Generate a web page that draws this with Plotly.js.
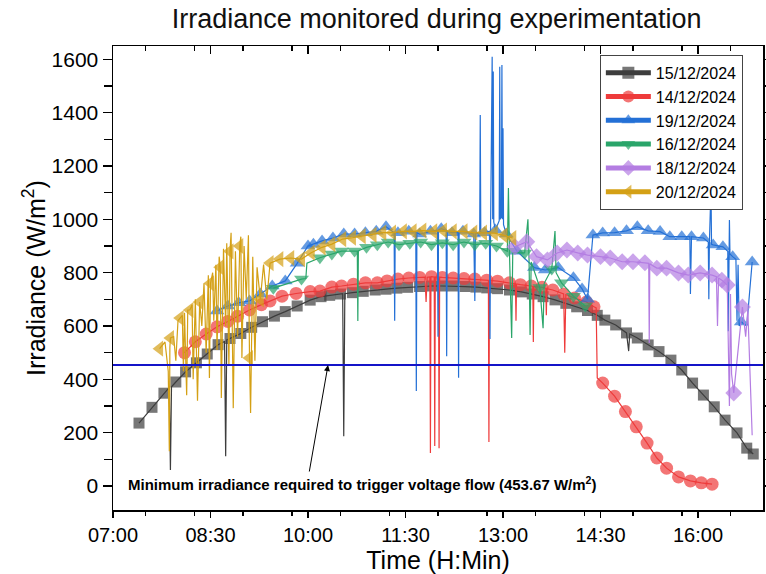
<!DOCTYPE html>
<html><head><meta charset="utf-8">
<script src="https://cdn.plot.ly/plotly-3.0.1.min.js"></script>
<style>html,body{margin:0;padding:0;background:#fff}#chart{width:766px;height:574px}</style>
</head><body><div id="chart"></div>
<script>
// ---- data (time "HH:MM[:SS]", irradiance W/m2) ----
const DAY = '2024-12-15 ';
const THRESH = 453.67;
const xStart = '07:00', xEnd = '17:00';

// 15/12/2024
const s15T = ['07:24','07:36','07:47','07:58','08:07','08:17','08:27','08:37','08:48','08:58','09:08','09:18','09:29','09:39','09:50','10:02','10:12','10:20','10:30','10:41','10:51','11:02','11:12','11:22','11:32','11:43','11:54','12:04','12:14','12:25','12:35','12:45','12:55','13:06','13:17','13:27','13:37','13:48','13:58','14:08','14:18','14:27','14:34','14:44','14:54','15:04','15:14','15:24','15:35','15:45','15:55','16:05','16:15','16:25','16:36','16:45','16:51'];
const s15V = [236,295,348,390,428,462,495,530,553,572,595,616,637,654,675,697,710,715,720,725,730,735,738,742,745,748,750,750,750,748,746,743,740,735,728,720,710,698,685,672,658,640,622,604,574,555,529,504,472,435,386,341,297,247,199,142,120];
const s15xT = ['07:52','07:53','07:54','08:43','08:44','08:45','10:32','10:33','10:34','14:56','14:57'];
const s15xV = [370,60,372,542,112,548,721,187,721,506,570];

// 14/12/2024
const s14T = ['08:06','08:16','08:26','08:36','08:46','08:55','09:06','09:17','09:25','09:36','09:49','10:02','10:11','10:22','10:31','10:42','10:53','11:04','11:13','11:23','11:33','11:43','11:54','12:04','12:14','12:24','12:34','12:45','12:55','13:06','13:16','13:26','13:36','13:46','13:56','14:06','14:17','14:24','14:32','14:43','14:53','15:03','15:13','15:22','15:31','15:42','15:53','16:03','16:13'];
const s14V = [500,541,570,597,617,637,660,680,694,712,722,729,731,746,750,757,762,762,769,776,780,782,785,782,780,778,776,772,768,762,755,750,745,735,720,705,690,672,386,337,279,222,161,105,67,34,19,12,7];
const s14xT = ['11:48','11:49','11:50','11:52:30','11:53','11:53:30','11:56:30','11:57','11:57:30','12:00:30','12:01','12:01:30','12:46:30','12:47','12:47:30','13:11:30','13:12','13:12:30','13:27:30','13:28','13:28:30','13:39:30','13:40','13:40:30','13:57','13:58','14:26','14:27'];
const s14xV = [783,690,783,784,124,784,784,150,784,783,142,783,771,165,771,758,620,758,749,540,748,742,640,740,500,718,668,405];

// 19/12/2024
const s19T = ['08:36','08:46','08:56','09:06','09:16','09:27','09:39','09:50','10:00','10:05','10:13','10:23','10:33','10:43','10:53','11:03','11:12','11:23','11:33','11:43','11:53','12:03','12:13','12:23','12:33','12:43','12:53','13:03','13:13','13:29','13:39','13:51','14:05','14:13','14:18','14:23','14:32','14:43','14:54','15:04','15:14','15:25','15:34','15:45','15:54','16:05','16:14','16:23','16:32','16:40','16:50'];
const s19V = [656,675,687,694,720,750,769,835,900,907,919,930,945,945,950,955,972,950,955,945,955,965,950,955,945,950,960,945,880,819,810,819,781,739,700,941,949,950,957,972,957,954,935,935,935,930,904,897,860,615,840];
const s19xT = ['11:19:30','11:20','11:20:30','11:39:30','11:40','11:40:30','11:59:30','12:00','12:00:30','12:07:30','12:08','12:08:30','12:18:30','12:19','12:19:30','12:34','12:34:30','12:38:30','12:39','12:39:30','12:47:30','12:48','12:48:30','12:50','12:50:30','12:51','12:51:30','12:56:30','12:57','12:57:30','12:58:30','12:59','12:59:30','13:00','13:00:30','15:52:30','15:53','15:53:30','16:09:30','16:10','16:10:30','16:12','16:12:30','16:27:30','16:28','16:29','16:29:30','16:35','16:36','16:37','16:38','16:45','16:47'];
const s19xV = [950,620,950,952,356,950,958,560,960,958,487,955,952,406,952,694,947,948,1391,950,955,551,955,1610,1000,1554,990,995,1572,1000,1010,1579,1000,1342,980,935,720,935,915,700,912,1117,906,880,580,997,870,850,620,830,600,600,700];

// 16/12/2024
const s16T = ['09:28','09:54','10:11','10:22','10:31','10:43','10:54','11:04','11:14','11:24','11:34','11:44','11:54','12:04','12:14','12:24','12:34','12:44','12:54','13:04','13:20','13:34','13:45','13:54','14:05','14:16'];
const s16V = [742,776,856,870,881,881,895,905,915,905,910,915,905,912,905,915,905,910,900,880,874,744,814,762,712,675];
const s16xT = ['09:58','09:59','10:45:30','10:46','10:46:30','13:05','13:06','13:08','13:09','13:23','13:24','13:25','13:26','13:37','13:38','13:48','13:49'];
const s16xV = [778,836,881,619,882,1117,870,555,875,1000,860,566,840,592,760,956,800];

// 18/12/2024
const s18T = ['13:11','13:22','13:31','13:41','13:50','13:59','14:09','14:18','14:30','14:39','14:50','15:00','15:11','15:22','15:31','15:42','15:51','16:02','16:13','16:22','16:27','16:33','16:41'];
const s18V = [897,916,860,848,874,885,874,866,860,855,841,841,837,817,817,799,791,799,791,772,754,349,671];
const s18xT = ['15:14:30','15:15','15:15:30','16:17','16:18','16:19','16:29','16:30','16:31','16:44','16:46','16:50'];
const s18xV = [835,536,833,785,600,780,300,720,420,560,660,190];

// 20/12/2024
const s20T = ['07:43','07:53','08:02','08:11','08:20','08:30','08:39','08:48','08:57','09:06','09:16','09:25','09:34','09:44','09:54','10:03','10:13','10:22','10:32','10:41','10:50','11:00','11:09','11:18','11:28','11:37','11:46','11:56','12:05','12:14','12:24','12:33','12:42','12:52','13:01','13:09'];
const s20V = [515,555,630,660,690,760,820,880,900,480,700,836,851,855,851,875,895,907,926,931,937,942,950,950,955,955,958,955,958,955,955,950,950,948,940,930];
const s20xT = ['07:48','07:51','07:52','07:52:30','07:56','07:58','08:00','08:04','08:05','08:06','08:08','08:09','08:13','08:14','08:16','08:18','08:22','08:24','08:26','08:28','08:29','08:32','08:33','08:35','08:36','08:38','08:40','08:42','08:44','08:45','08:47','08:49','08:51','08:53','08:55','08:58','08:59','09:01','09:03','09:05','09:07','09:09','09:11','09:13','09:19','09:22'];
const s20xV = [540,430,130,520,560,470,620,640,430,650,340,660,680,400,700,320,600,760,500,790,405,800,620,830,510,860,330,890,600,910,450,950,292,880,560,935,480,900,700,940,274,860,470,820,830,700];

const seriesNames = ['15/12/2024','14/12/2024','19/12/2024','16/12/2024','18/12/2024','20/12/2024'];

// ---- drawing ----
const FONT = 'Liberation Sans, Arial, Helvetica, sans-serif';
function toSec(s){const p=s.split(':').map(Number);return p[0]*3600+p[1]*60+(p[2]||0);}
function merge(mt,mv,et,ev){
  const pts=[];
  mt.forEach((t,i)=>pts.push({t:t,v:mv[i],m:true}));
  et.forEach((t,i)=>pts.push({t:t,v:ev[i],m:false}));
  pts.sort((a,b)=>toSec(a.t)-toSec(b.t));
  return pts;
}
const styles = [
  {c:'#3d3d3d', sym:'square', sz:11},
  {c:'#ee3b3b', sym:'circle', sz:13},
  {c:'#2470d6', sym:'triangle-up', sz:13},
  {c:'#2aa56a', sym:'triangle-down', sz:13},
  {c:'#b47de2', sym:'diamond', sz:13},
  {c:'#d4a015', sym:'triangle-left', sz:14}
];
const raw = [[s15T,s15V,s15xT,s15xV],[s14T,s14V,s14xT,s14xV],[s19T,s19V,s19xT,s19xV],[s16T,s16V,s16xT,s16xV],[s18T,s18V,s18xT,s18xV],[s20T,s20V,s20xT,s20xV]];
const traces = raw.map((r,i)=>{
  const pts = merge(r[0],r[1],r[2],r[3]);
  const st = styles[i];
  return {
    type:'scatter', mode:'lines+markers', name:seriesNames[i],
    x: pts.map(p=>DAY+p.t), y: pts.map(p=>p.v),
    line:{color:st.c, width:1.2},
    marker:{symbol:st.sym, color:st.c, size: pts.map(p=>p.m?st.sz:0), line:{width:0}},
    hoverinfo:'skip'
  };
});
traces.push({
  type:'scatter', mode:'lines', xaxis:'x2', yaxis:'y', showlegend:false, hoverinfo:'skip',
  x:[DAY+xStart, DAY+xEnd], y:[THRESH, THRESH], line:{color:'#1414c8', width:2}
});

const xCommon = {
  type:'date', range:[DAY+xStart, DAY+xEnd], tick0:DAY+xStart, dtick:5400000,
  tickformat:'%H:%M', showgrid:false, zeroline:false, showline:true, linecolor:'#000', linewidth:1.5,
  tickcolor:'#000', tickwidth:1.5, ticklen:8
};
const layout = {
  width:766, height:574,
  margin:{l:113, r:3, t:46, b:64},
  paper_bgcolor:'#fff', plot_bgcolor:'#fff',
  font:{family:FONT, color:'#000'},
  title:{text:'Irradiance monitored during experimentation', font:{family:FONT, size:27, color:'#111'}, x:0.57, xanchor:'center', y:0.968, yanchor:'middle'},
  showlegend:true,
  legend:{x:0.749, y:0.981, xanchor:'left', yanchor:'top', bgcolor:'#fff', bordercolor:'#444', borderwidth:1,
          font:{family:FONT, size:16, color:'#000'}, itemsizing:'constant', itemwidth:45, tracegroupgap:0},
  xaxis: Object.assign({}, xCommon, {
    ticks:'outside', ticklen:6, tickfont:{family:FONT, size:20, color:'#000'},
    minor:{dtick:2700000, ticks:'outside', ticklen:4, tickcolor:'#000', tickwidth:1.5, showgrid:false},
    title:{text:'Time (H:Min)', font:{family:FONT, size:25, color:'#000'}, standoff:0}
  }),
  xaxis2: Object.assign({}, xCommon, {
    overlaying:'x', side:'top', anchor:'y', ticks:'inside', showticklabels:false,
    minor:{dtick:2700000, ticks:'inside', ticklen:5, tickcolor:'#000', tickwidth:1.5, showgrid:false}
  }),
  yaxis:{
    range:[-90,1650], tick0:0, dtick:200, ticks:'outside', ticklen:9, tickwidth:1.5, tickcolor:'#000',
    minor:{dtick:100, ticks:'outside', ticklen:8, tickcolor:'#000', tickwidth:1.5, showgrid:false},
    showline:true, mirror:'ticks', linecolor:'#000', linewidth:1.5, showgrid:false, zeroline:false,
    tickfont:{family:FONT, size:21, color:'#000'},
    title:{text:'Irradiance (W/m<sup>2</sup>)', font:{family:FONT, size:25, color:'#000'}}
  },
  annotations:[
    {xref:'paper', yref:'y', x:0.02, y:8, xanchor:'left', yanchor:'middle', showarrow:false,
     text:'<b>Minimum irradiance required to trigger voltage flow (453.67 W/m<sup>2</sup>)</b>',
     font:{family:FONT, size:15, color:'#000'}},
    {xref:'x', yref:'y', x:DAY+'10:18:30', y:THRESH, ax:-19, ay:108, text:'', showarrow:true,
     arrowhead:2, arrowsize:1.2, arrowwidth:1, arrowcolor:'#000'}
  ]
};
Plotly.newPlot('chart', traces, layout, {displayModeBar:false, staticPlot:true});
</script>
</body></html>
